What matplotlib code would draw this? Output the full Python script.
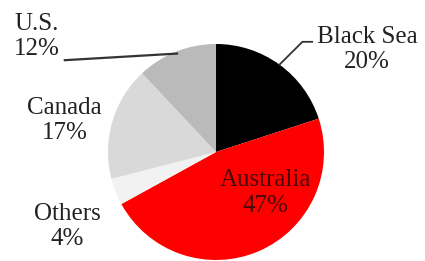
import numpy as np
import matplotlib
matplotlib.use("Agg")
import matplotlib.pyplot as plt

# data (share of exports, %)
regions = ["Black Sea", "Australia", "Others", "Canada", "U.S."]
shares = [20, 47, 4, 17, 12]
colors = ["#000000", "#ff0000", "#f2f2f2", "#d9d9d9", "#bababa"]

# label centres (in pie-radius units, pie centred at 0,0)
label_pos = [(1.40, 0.95), (0.46, -0.38), (-1.38, -0.69), (-1.40, 0.29), (-1.66, 1.07)]
label_colors = ["#222222", "#4a0808", "#222222", "#222222", "#222222"]

plt.rcParams['font.family'] = ['Liberation Serif', 'DejaVu Serif']

fig = plt.figure(figsize=(4.25, 2.61), dpi=100)
ax = fig.add_axes([0, 0, 1, 1])

wedges, _ = ax.pie(shares, colors=colors, startangle=90, counterclock=False,
                   radius=1.0, wedgeprops=dict(linewidth=0))

for i, w in enumerate(wedges):
    txt = regions[i] + "\n" + str(shares[i]) + "%"
    x, y = label_pos[i]
    ax.text(x, y, txt, ha='center', va='center', fontsize=18,
            color=label_colors[i], linespacing=1.2)

# leader lines for the two top labels, ending on the wedge mid-angle
def edge_point(w):
    ang = np.deg2rad((w.theta1 + w.theta2) / 2)
    return np.cos(ang), np.sin(ang)

ex, ey = edge_point(wedges[0])
ax.plot([ex, 0.80, 0.89], [ey, 1.02, 1.02], color='#333333', lw=1.3)

ex, ey = edge_point(wedges[4])
ex, ey = ex * 0.98, ey * 0.98
ax.plot([-1.40, ex], [0.85, ey], color='#333333', lw=1.6)

ax.set_xlim(-2.0, 1.935)
ax.set_ylim(-1.009, 1.407)
ax.set_aspect('equal')
ax.axis('off')

fig.savefig("out.png", dpi=100)
